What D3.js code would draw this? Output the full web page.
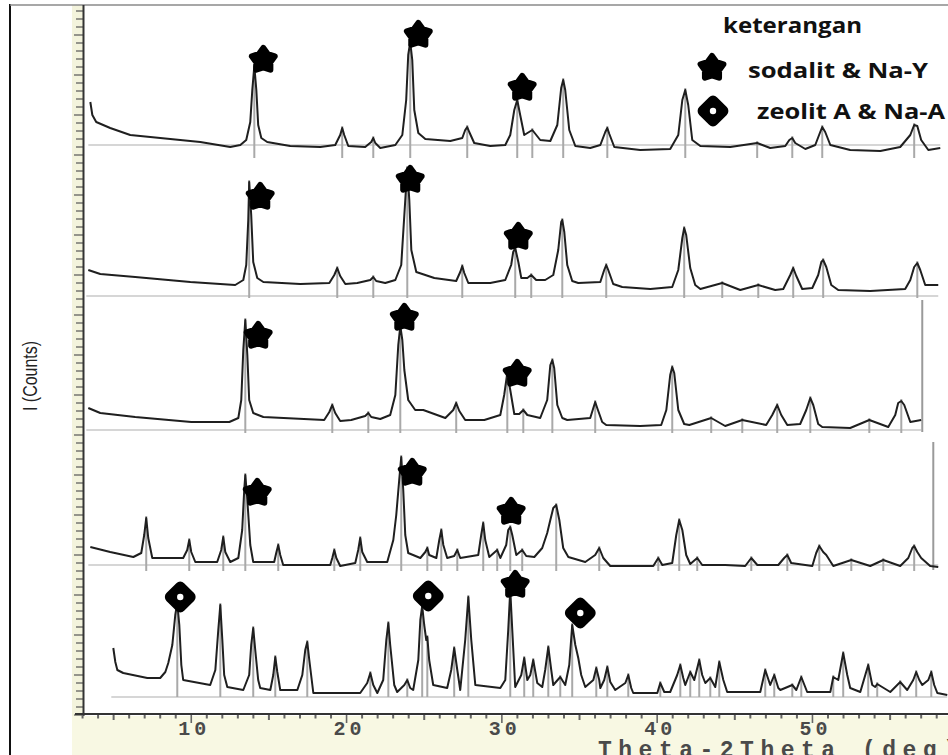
<!DOCTYPE html>
<html>
<head>
<meta charset="utf-8">
<script src="https://cdn.jsdelivr.net/npm/d3@7"></script>
<style>
  body { margin: 0; background: #fff; }
  svg { display: block; }
</style>
</head>
<body>
<div id="chart"></div>
<script>
//data: [2theta (deg), counts] per pattern, stacked top to bottom
var pattern1 = [[3.50,6130],[3.63,6000],[3.88,5930],[4.78,5870],[6.07,5800],[7.36,5780],[9.29,5750],[10.58,5730],[12.51,5680],[13.16,5700],[13.54,5750],[13.80,5930],[13.93,6250],[14.06,6490],[14.19,6250],[14.31,5900],[14.51,5770],[14.89,5730],[16.37,5690],[18.31,5680],[19.27,5700],[19.59,5800],[19.72,5870],[19.85,5800],[20.11,5690],[21.20,5680],[21.59,5730],[21.72,5770],[21.85,5720],[22.17,5670],[23.14,5700],[23.59,5800],[23.84,6150],[23.97,6600],[24.10,6730],[24.23,6550],[24.36,6050],[24.62,5820],[25.07,5760],[26.68,5740],[27.45,5770],[27.64,5850],[27.77,5880],[27.90,5830],[28.22,5720],[29.25,5690],[30.22,5700],[30.54,5800],[30.80,6050],[30.99,6150],[31.18,6000],[31.44,5800],[31.96,5850],[32.47,5750],[33.12,5740],[33.57,5900],[33.82,6270],[33.95,6350],[34.08,6250],[34.34,5850],[34.73,5690],[35.69,5670],[36.34,5700],[36.66,5830],[36.79,5870],[36.92,5810],[37.24,5680],[38.91,5650],[40.84,5660],[41.36,5800],[41.62,6150],[41.81,6250],[42.00,6100],[42.26,5750],[42.78,5690],[44.71,5680],[46.44,5720],[47.28,5670],[48.25,5690],[48.51,5750],[48.70,5770],[48.89,5720],[49.54,5660],[50.18,5700],[50.50,5830],[50.63,5880],[50.82,5830],[51.15,5700],[52.43,5650],[54.37,5640],[55.65,5680],[56.30,5800],[56.55,5900],[56.75,5890],[57.00,5750],[57.46,5650],[58.23,5670]];

var pattern2 = [[3.37,4450],[4.14,4410],[6.39,4380],[9.94,4330],[12.83,4300],[13.35,4350],[13.54,4500],[13.67,4950],[13.73,5330],[13.86,5000],[13.99,4530],[14.25,4370],[14.64,4330],[17.02,4310],[18.89,4320],[19.21,4400],[19.40,4470],[19.59,4390],[19.92,4310],[20.69,4320],[21.53,4350],[21.72,4380],[21.91,4340],[22.49,4320],[23.14,4350],[23.52,4500],[23.72,5000],[23.91,5470],[24.04,5150],[24.17,4650],[24.49,4430],[25.65,4370],[27.06,4340],[27.32,4430],[27.45,4490],[27.58,4420],[27.84,4320],[29.25,4320],[30.22,4350],[30.60,4500],[30.73,4630],[30.86,4670],[31.06,4530],[31.25,4370],[31.64,4370],[31.89,4400],[32.21,4350],[32.79,4350],[33.31,4400],[33.63,4650],[33.82,4930],[33.89,4950],[34.02,4830],[34.21,4500],[34.53,4340],[34.92,4320],[36.34,4330],[36.59,4450],[36.72,4500],[36.85,4450],[37.17,4310],[37.75,4280],[39.56,4260],[40.97,4280],[41.36,4450],[41.62,4770],[41.74,4870],[41.87,4800],[42.13,4470],[42.45,4300],[42.78,4260],[44.19,4320],[45.35,4250],[46.51,4300],[47.60,4250],[48.12,4260],[48.57,4400],[48.76,4470],[48.96,4390],[49.34,4260],[49.99,4270],[50.37,4400],[50.57,4530],[50.69,4550],[50.89,4480],[51.21,4300],[51.66,4250],[53.72,4240],[55.97,4260],[56.30,4350],[56.55,4480],[56.75,4520],[56.94,4450],[57.26,4300],[58.10,4300]];

var pattern3 = [[3.37,3070],[4.14,3020],[6.39,2980],[10.00,2930],[12.45,2930],[13.03,2970],[13.22,3150],[13.35,3650],[13.48,3950],[13.61,3600],[13.73,3150],[13.99,3020],[14.64,2980],[18.56,2950],[18.89,3030],[19.08,3100],[19.27,3020],[19.59,2940],[20.30,2950],[21.20,2990],[21.40,3020],[21.59,2980],[22.17,2960],[22.81,3000],[23.14,3200],[23.33,3700],[23.46,3890],[23.59,3750],[23.72,3450],[23.97,3150],[24.42,3050],[24.94,3050],[26.36,2970],[26.87,3050],[27.06,3120],[27.26,3040],[27.64,2950],[28.87,2950],[29.90,3000],[30.15,3200],[30.35,3420],[30.54,3250],[30.80,3010],[31.12,3010],[31.38,3050],[31.64,3000],[32.47,2970],[32.92,3150],[33.12,3500],[33.25,3550],[33.37,3470],[33.57,3100],[33.89,2970],[34.21,2950],[35.69,2970],[35.89,3070],[36.01,3130],[36.14,3070],[36.46,2930],[36.72,2900],[38.91,2890],[40.26,2900],[40.59,3050],[40.84,3400],[40.97,3480],[41.10,3420],[41.36,3050],[41.74,2910],[42.07,2900],[43.48,2970],[44.38,2890],[45.48,2950],[47.02,2900],[47.41,3000],[47.73,3100],[47.99,3000],[48.38,2900],[49.21,2910],[49.60,3050],[49.86,3170],[50.05,3100],[50.37,2910],[50.63,2880],[52.43,2870],[53.66,2950],[54.88,2880],[55.33,3000],[55.52,3120],[55.72,3140],[55.91,3100],[56.30,2930],[57.00,2950]];

var pattern4 = [[3.50,1680],[4.78,1630],[6.27,1580],[6.78,1620],[6.97,1800],[7.10,1970],[7.23,1770],[7.49,1570],[9.48,1570],[9.74,1650],[9.87,1750],[10.00,1630],[10.26,1530],[11.67,1530],[11.93,1650],[12.06,1780],[12.19,1630],[12.51,1530],[13.03,1570],[13.28,1850],[13.41,2250],[13.48,2400],[13.61,2150],[13.80,1700],[13.99,1530],[15.34,1530],[15.47,1620],[15.60,1700],[15.73,1600],[15.92,1500],[18.95,1500],[19.08,1570],[19.21,1650],[19.34,1570],[19.59,1490],[20.56,1520],[20.75,1650],[20.88,1770],[21.01,1630],[21.33,1530],[22.62,1530],[23.01,1750],[23.20,2000],[23.39,2350],[23.52,2580],[23.65,2250],[23.78,1800],[23.97,1620],[24.75,1570],[25.07,1630],[25.20,1670],[25.32,1600],[25.78,1570],[25.97,1750],[26.10,1850],[26.23,1700],[26.48,1570],[26.93,1590],[27.13,1650],[27.32,1570],[28.48,1600],[28.67,1800],[28.80,1920],[28.93,1750],[29.19,1580],[29.70,1650],[29.90,1570],[30.28,1700],[30.41,1850],[30.54,1880],[30.67,1800],[30.93,1600],[31.31,1650],[31.57,1590],[32.09,1580],[32.60,1670],[32.92,1820],[33.12,1950],[33.31,2070],[33.50,2100],[33.70,1950],[33.95,1670],[34.28,1580],[35.37,1530],[36.01,1600],[36.27,1670],[36.53,1570],[36.98,1490],[39.75,1490],[40.07,1570],[40.33,1500],[40.97,1520],[41.23,1800],[41.42,1950],[41.62,1850],[41.87,1600],[42.13,1510],[42.58,1570],[42.90,1500],[44.38,1500],[45.67,1490],[46.06,1570],[46.45,1500],[47.80,1500],[48.18,1570],[48.38,1600],[48.63,1520],[49.99,1490],[50.24,1620],[50.44,1690],[50.69,1630],[50.89,1600],[51.34,1490],[52.50,1550],[53.72,1490],[54.56,1550],[55.65,1490],[56.17,1570],[56.43,1670],[56.55,1690],[56.75,1630],[57.00,1570],[57.58,1490],[58.10,1480]];

var pattern5 = [[4.98,670],[5.11,530],[5.24,450],[5.62,420],[7.17,370],[8.00,370],[8.33,430],[8.52,520],[8.78,700],[8.97,1000],[9.10,1120],[9.23,900],[9.36,500],[9.48,350],[11.22,300],[11.55,450],[11.74,850],[11.87,1100],[12.00,750],[12.12,400],[12.32,280],[13.35,250],[13.73,400],[13.86,700],[13.99,870],[14.12,650],[14.31,350],[14.44,270],[15.09,250],[15.28,400],[15.41,580],[15.54,430],[15.73,250],[16.83,250],[17.15,400],[17.34,650],[17.47,730],[17.60,550],[17.86,220],[20.88,220],[21.33,320],[21.53,420],[21.72,300],[21.98,220],[22.36,350],[22.56,750],[22.69,920],[22.81,700],[23.07,300],[23.26,230],[23.72,300],[23.91,350],[24.10,270],[24.29,250],[24.62,550],[24.75,950],[24.87,1090],[25.00,900],[25.13,750],[25.20,780],[25.32,550],[25.58,300],[26.48,270],[26.74,450],[26.93,670],[27.13,450],[27.32,250],[27.64,750],[27.84,1180],[28.03,750],[28.29,300],[29.90,270],[30.22,350],[30.41,850],[30.54,1250],[30.67,850],[30.86,280],[31.25,400],[31.44,570],[31.64,350],[31.83,400],[32.02,550],[32.28,320],[32.60,280],[32.79,450],[32.99,680],[33.18,450],[33.31,300],[33.76,380],[34.08,300],[34.34,500],[34.53,900],[34.73,700],[34.92,570],[35.11,400],[35.37,280],[35.89,350],[36.08,470],[36.27,350],[36.34,270],[36.59,350],[36.79,480],[36.98,330],[37.30,250],[37.95,320],[38.14,400],[38.33,270],[38.46,220],[40.01,220],[40.20,320],[40.46,230],[40.84,230],[41.29,400],[41.49,500],[41.68,370],[41.81,300],[42.13,430],[42.39,350],[42.71,550],[42.90,400],[43.10,320],[43.42,370],[43.74,280],[44.00,530],[44.26,350],[44.51,230],[46.64,230],[46.96,450],[47.28,300],[47.54,400],[47.80,270],[47.93,250],[48.70,300],[48.96,250],[49.28,380],[49.66,230],[51.15,230],[51.34,380],[51.66,350],[51.98,620],[52.24,400],[52.43,270],[53.08,230],[53.59,500],[53.85,300],[54.04,280],[54.17,310],[55.01,230],[55.65,330],[56.10,250],[56.49,350],[56.68,430],[56.88,350],[57.07,300],[57.46,350],[57.65,430],[57.84,300],[58.04,220],[58.68,200]];

var patterns = [pattern1, pattern2, pattern3, pattern4, pattern5];

// zero line of each pattern and bottom of its peak-position sticks (counts)
var zeroLevels = [5700, 4190, 2850, 1500, 180];
var stickBases = [5570, 4170, 2820, 1440, 180];

// right border segments of the middle panes: [deg, countsFrom, countsTo]
var paneEdges = [[57.07, 4150, 2830], [57.78, 2730, 1450]];

// phase markers [deg, counts]
var starMarks = [[14.64,6550],[24.62,6800],[31.31,6270],
                 [14.44,5180],[24.10,5350],[31.06,4780],
                 [14.31,3790],[23.72,3970],[30.99,3410],
                 [14.25,2220],[24.23,2420],[30.60,2030],
                 [30.86,1300]];
var diamondMarks = [[9.29,1180],[25.26,1190],[35.05,1020]];

var xTicks = [10, 20, 30, 40, 50];
var legendTitle = 'keterangan';
var legendItems = ['sodalit & Na-Y', 'zeolit A & Na-A'];

//dims
var width = 948;
var height = 755;

var x = d3.scaleLinear().domain([2.9, 59.5]).range([81, 960]);
var y = d3.scaleLinear().domain([0, 7100]).range([715, 5]);

var svg = d3.select('#chart')
  .append('svg')
  .attr('width', width)
  .attr('height', height);

svg.append('rect').attr('width', width).attr('height', height).attr('fill', '#fff');

// cream strips behind the axes
svg.append('rect').attr('x', 72).attr('y', 5).attr('width', 12).attr('height', 711).attr('fill', '#f3f3dc');
svg.append('rect').attr('x', 72).attr('y', 716).attr('width', width - 72).attr('height', 39).attr('fill', '#f8f8e3');

// outer frame
svg.append('line').attr('x1', 10).attr('x2', 10).attr('y1', 4).attr('y2', height)
  .attr('stroke', '#111').attr('stroke-width', 2);
svg.append('line').attr('x1', 10).attr('x2', width).attr('y1', 5).attr('y2', 5)
  .attr('stroke', '#8a8a8a').attr('stroke-width', 1.5);

// left ruler
var yr = svg.append('g');
yr.selectAll('line')
  .data(d3.range(0, 7101, 80))
  .enter()
  .append('line')
  .attr('x1', function(d, i) { return i % 5 === 0 ? 74 : 76; })
  .attr('x2', 83)
  .attr('y1', function(d) { return y(d); })
  .attr('y2', function(d) { return y(d); })
  .attr('stroke', '#555')
  .attr('stroke-width', 1.2);
svg.append('line').attr('x1', 83.5).attr('x2', 83.5).attr('y1', 5).attr('y2', 716)
  .attr('stroke', '#333').attr('stroke-width', 2);

// bottom axis
svg.append('line').attr('x1', 75).attr('x2', width).attr('y1', 714).attr('y2', 714)
  .attr('stroke', '#333').attr('stroke-width', 2.2);
var xa = svg.append('g');
xa.selectAll('line')
  .data(d3.range(3, 60))
  .enter()
  .append('line')
  .attr('x1', function(d) { return x(d); })
  .attr('x2', function(d) { return x(d); })
  .attr('y1', 715)
  .attr('y2', function(d) { return d % 10 === 0 ? 723 : (d % 5 === 0 ? 720 : 718.5); })
  .attr('stroke', '#666')
  .attr('stroke-width', function(d) { return d % 10 === 0 ? 1.6 : 2; });
xa.selectAll('text')
  .data(xTicks)
  .enter()
  .append('text')
  .attr('x', function(d) { return x(d) + 3; })
  .attr('y', 735)
  .attr('text-anchor', 'middle')
  .attr('font-family', 'Liberation Mono, DejaVu Sans Mono, monospace')
  .attr('font-weight', 'bold')
  .attr('font-size', 20)
  .attr('letter-spacing', 4)
  .attr('fill', '#4a4a4a')
  .text(function(d) { return d; });

svg.append('text')
  .attr('x', 598)
  .attr('y', 757)
  .attr('font-family', 'Liberation Mono, DejaVu Sans Mono, monospace')
  .attr('font-weight', 'bold')
  .attr('font-size', 23)
  .attr('letter-spacing', 6.5)
  .attr('fill', '#4a4a4a')
  .text('Theta-2Theta (deg)');

svg.append('text')
  .attr('transform', 'translate(37,376) rotate(-90)')
  .attr('text-anchor', 'middle')
  .attr('font-family', 'Liberation Sans, Arial, sans-serif')
  .attr('font-size', 20)
  .attr('textLength', 70)
  .attr('lengthAdjust', 'spacingAndGlyphs')
  .attr('fill', '#222')
  .text('I (Counts)');

// zero lines
var plot = svg.append('g');
plot.selectAll('line.zero')
  .data(patterns)
  .enter()
  .append('line')
  .attr('class', 'zero')
  .attr('x1', function(d) { return x(d[0][0]) - 2; })
  .attr('x2', function(d) { return x(d[d.length - 1][0]); })
  .attr('y1', function(d, i) { return y(zeroLevels[i]); })
  .attr('y2', function(d, i) { return y(zeroLevels[i]); })
  .attr('stroke', '#c9c9c9')
  .attr('stroke-width', 1.3);

// peak sticks at every local maximum of a pattern
patterns.forEach(function(p, k) {
  var peaks = p.filter(function(d, i) {
    return i > 0 && i < p.length - 1 && d[1] > p[i - 1][1] && d[1] >= p[i + 1][1];
  });
  plot.append('g').selectAll('line')
    .data(peaks)
    .enter()
    .append('line')
    .attr('x1', function(d) { return x(d[0]); })
    .attr('x2', function(d) { return x(d[0]); })
    .attr('y1', y(stickBases[k]))
    .attr('y2', function(d) { return y(d[1]) - 2; })
    .attr('stroke', '#a9a9a9')
    .attr('stroke-width', 2);
});

plot.selectAll('line.edge')
  .data(paneEdges)
  .enter()
  .append('line')
  .attr('class', 'edge')
  .attr('x1', function(d) { return x(d[0]); })
  .attr('x2', function(d) { return x(d[0]); })
  .attr('y1', function(d) { return y(d[1]); })
  .attr('y2', function(d) { return y(d[2]); })
  .attr('stroke', '#9a9a9a')
  .attr('stroke-width', 2);

// patterns
var line = d3.line()
  .x(function(d) { return x(d[0]); })
  .y(function(d) { return y(d[1]); });

plot.selectAll('path.pattern')
  .data(patterns)
  .enter()
  .append('path')
  .attr('class', 'pattern')
  .attr('d', line)
  .attr('fill', 'none')
  .attr('stroke', '#1f1f1f')
  .attr('stroke-width', 2)
  .attr('stroke-linejoin', 'round');

// marker shapes
function starPath(r) {
  var pts = [];
  for (var i = 0; i < 10; i++) {
    var a = -Math.PI / 2 + i * Math.PI / 5;
    var rr = i % 2 === 0 ? r : r * 0.62;
    pts.push([rr * Math.cos(a), rr * Math.sin(a)]);
  }
  return 'M' + pts.join('L') + 'Z';
}

function drawStar(g, cx, cy) {
  g.append('path')
    .attr('transform', 'translate(' + cx + ',' + cy + ')')
    .attr('d', starPath(12))
    .attr('fill', '#000')
    .attr('stroke', '#000')
    .attr('stroke-width', 6)
    .attr('stroke-linejoin', 'round');
}

function drawDiamond(g, cx, cy) {
  g.append('rect')
    .attr('x', -10).attr('y', -10).attr('width', 20).attr('height', 20)
    .attr('rx', 3)
    .attr('transform', 'translate(' + cx + ',' + cy + ') rotate(45)')
    .attr('fill', '#000')
    .attr('stroke', '#000')
    .attr('stroke-width', 5)
    .attr('stroke-linejoin', 'round');
  g.append('circle')
    .attr('cx', cx).attr('cy', cy).attr('r', 3.2)
    .attr('fill', '#fff');
}

var marks = svg.append('g');
starMarks.forEach(function(d) { drawStar(marks, x(d[0]), y(d[1])); });
diamondMarks.forEach(function(d) { drawDiamond(marks, x(d[0]), y(d[1])); });

// legend
var legend = svg.append('g')
  .attr('font-family', 'Open Sans, Lato, sans-serif')
  .attr('font-weight', 'bold')
  .attr('fill', '#111');
legend.append('text')
  .attr('x', 723).attr('y', 33)
  .attr('font-size', 22)
  .attr('textLength', 139)
  .attr('lengthAdjust', 'spacingAndGlyphs')
  .text(legendTitle);
drawStar(legend, 712, 68);
legend.append('text')
  .attr('x', 748).attr('y', 78)
  .attr('font-size', 22)
  .attr('textLength', 180)
  .attr('lengthAdjust', 'spacingAndGlyphs')
  .text(legendItems[0]);
drawDiamond(legend, 713, 111);
legend.append('text')
  .attr('x', 757).attr('y', 119)
  .attr('font-size', 22)
  .attr('textLength', 188)
  .attr('lengthAdjust', 'spacingAndGlyphs')
  .text(legendItems[1]);
</script>
</body>
</html>
